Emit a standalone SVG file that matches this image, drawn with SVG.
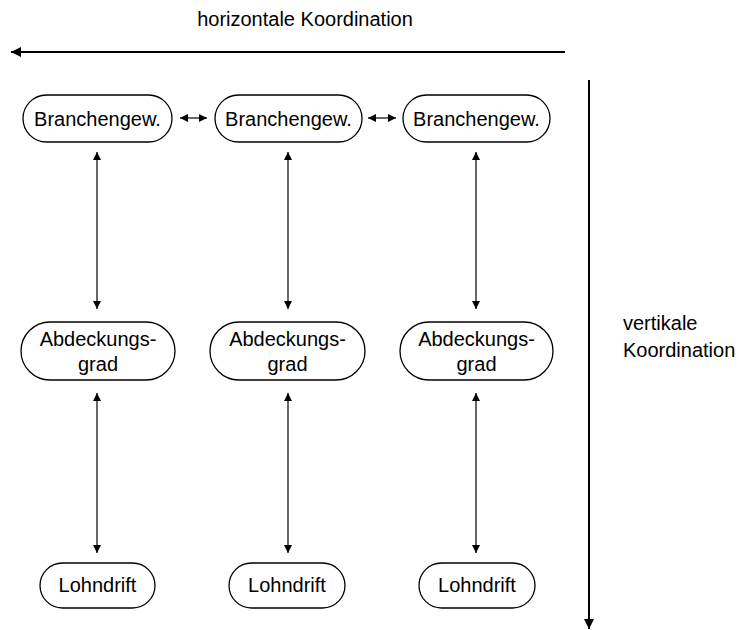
<svg xmlns="http://www.w3.org/2000/svg" width="739" height="630" viewBox="0 0 739 630">
<style>
.node rect{fill:#fff;stroke:#000;stroke-width:1.3}
text{font-family:"Liberation Sans",Arial,sans-serif;font-size:20px;fill:#000}
.c{text-anchor:middle}
.conn line{stroke:#000;stroke-width:1.2}
.axis line{stroke:#000;stroke-width:2}
</style>
<defs>
<marker id="ah" markerUnits="userSpaceOnUse" markerWidth="9" markerHeight="8" refX="8" refY="4" orient="auto-start-reverse">
<path d="M0,0 L8,4 L0,8 Z" fill="#000"/>
</marker>
<marker id="big" markerUnits="userSpaceOnUse" markerWidth="11" markerHeight="10" refX="10" refY="5" orient="auto">
<path d="M0,0 L10,5 L0,10 Z" fill="#000"/>
</marker>
</defs>
<g class="axis">
<line x1="565" y1="52" x2="11" y2="52" marker-end="url(#big)"/>
<line x1="589" y1="80" x2="589" y2="629" marker-end="url(#big)"/>
</g>
<text class="c" x="305" y="26">horizontale Koordination</text>
<text x="623" y="330">vertikale</text>
<text x="623" y="357">Koordination</text>
<g class="conn">
<line x1="180" y1="118" x2="207" y2="118" marker-start="url(#ah)" marker-end="url(#ah)"/>
<line x1="368" y1="118" x2="396" y2="118" marker-start="url(#ah)" marker-end="url(#ah)"/>
<line x1="97" y1="152" x2="97" y2="309" marker-start="url(#ah)" marker-end="url(#ah)"/>
<line x1="288" y1="152" x2="288" y2="309" marker-start="url(#ah)" marker-end="url(#ah)"/>
<line x1="476" y1="152" x2="476" y2="309" marker-start="url(#ah)" marker-end="url(#ah)"/>
<line x1="97" y1="393" x2="97" y2="553" marker-start="url(#ah)" marker-end="url(#ah)"/>
<line x1="288" y1="393" x2="288" y2="553" marker-start="url(#ah)" marker-end="url(#ah)"/>
<line x1="476" y1="393" x2="476" y2="553" marker-start="url(#ah)" marker-end="url(#ah)"/>
</g>
<g id="b1" class="node"><rect x="23" y="95" width="149" height="47" rx="23.5"/><text class="c" x="97.5" y="125.5">Branchengew.</text></g>
<g id="b2" class="node"><rect x="215" y="95" width="147" height="47" rx="23.5"/><text class="c" x="288.5" y="125.5">Branchengew.</text></g>
<g id="b3" class="node"><rect x="403" y="95" width="147" height="47" rx="23.5"/><text class="c" x="476.5" y="125.5">Branchengew.</text></g>
<g id="a1" class="node"><rect x="21" y="322" width="154" height="58" rx="29"/><text class="c" x="98" y="346">Abdeckungs-</text><text class="c" x="98" y="371">grad</text></g>
<g id="a2" class="node"><rect x="210" y="322" width="155" height="58" rx="29"/><text class="c" x="287.5" y="346">Abdeckungs-</text><text class="c" x="287.5" y="371">grad</text></g>
<g id="a3" class="node"><rect x="400" y="322" width="153" height="58" rx="29"/><text class="c" x="476.5" y="346">Abdeckungs-</text><text class="c" x="476.5" y="371">grad</text></g>
<g id="l1" class="node"><rect x="40" y="563" width="115" height="45" rx="22.5"/><text class="c" x="97.5" y="592">Lohndrift</text></g>
<g id="l2" class="node"><rect x="229" y="563" width="116" height="45" rx="22.5"/><text class="c" x="287" y="592">Lohndrift</text></g>
<g id="l3" class="node"><rect x="419" y="563" width="116" height="45" rx="22.5"/><text class="c" x="477" y="592">Lohndrift</text></g>
</svg>
